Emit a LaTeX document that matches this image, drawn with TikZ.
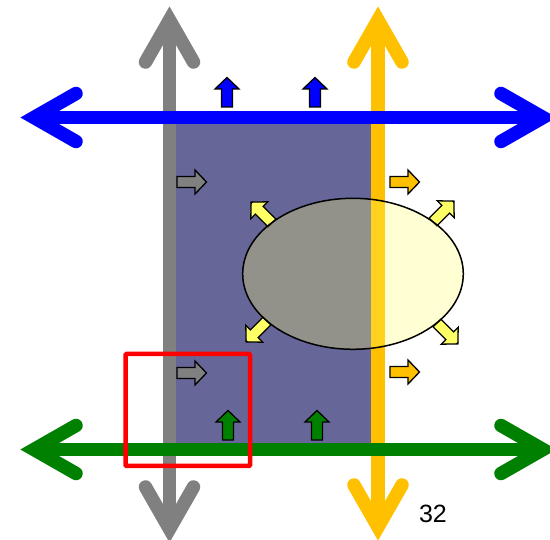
\documentclass[tikz,border=0pt]{standalone}
\usepackage{fontspec}
\setmainfont{Liberation Sans}
\definecolor{purp}{RGB}{102,102,153}
\definecolor{gold}{RGB}{255,192,0}
\definecolor{lyel}{RGB}{255,255,102}
\definecolor{dgreen}{RGB}{0,128,0}
\tikzset{
  bigline/.style={line width=13.5pt},
  pics/chev/.style={code={\draw[line width=13.5pt,line cap=round,line join=miter,#1] (-56,24) -- (-14,0) -- (-56,-24);}},
  pics/barrow/.style={code={\draw[line width=1.3pt,line join=miter,fill=#1] (0,-5.5) -- (18,-5.5) -- (18,-12) -- (29.5,0) -- (18,12) -- (18,5.5) -- (0,5.5) -- cycle;}}
}
\begin{document}
\begin{tikzpicture}[x=1pt,y=-1pt]
\useasboundingbox (0,0) rectangle (550,540);
\clip (0,0) rectangle (550,540);
% band
\fill[purp] (169.5,117.5) rectangle (378,449.5);
% vertical gray
\coordinate (gT) at (169.5,20);
\coordinate (gB) at (169.5,529);
\draw[bigline,gray] (gT) -- (gB);
\pic[rotate=90] at (169.5,6) {chev=gray};
\pic[rotate=-90] at (169.5,543) {chev=gray};
% vertical gold
\coordinate (yT) at (378,20);
\coordinate (yB) at (378,527);
\draw[bigline,gold] (yT) -- (yB);
\pic[rotate=90] at (378,6) {chev=gold};
\pic[rotate=-90] at (378,541) {chev=gold};
% horizontal blue
\coordinate (bL) at (34,117.5);
\coordinate (bR) at (543,117.5);
\draw[bigline,blue] (bL) -- (bR);
\pic[rotate=180] at (20,117.5) {chev=blue};
\pic at (557,117.5) {chev=blue};
% horizontal green
\coordinate (grL) at (34,449.5);
\coordinate (grR) at (543,449.5);
\draw[bigline,dgreen] (grL) -- (grR);
\pic[rotate=180] at (20,449.5) {chev=dgreen};
\pic at (557,449.5) {chev=dgreen};
% small arrows
\pic[rotate=90] at (227,107) {barrow=blue};
\pic[rotate=90] at (315,107) {barrow=blue};
\pic[rotate=90] at (228,440) {barrow=dgreen};
\pic[rotate=90] at (317,440) {barrow=dgreen};
\pic at (177,182) {barrow=gray};
\pic at (177,373) {barrow=gray};
\pic at (390,182) {barrow=gold};
\pic at (390,372) {barrow=gold};
% diagonal arrows
\pic[rotate=135] at (272,223) {barrow=lyel};
\pic[rotate=45] at (433,222) {barrow=lyel};
\pic[rotate=-135] at (267,321) {barrow=lyel};
\pic[rotate=-45] at (437,323) {barrow=lyel};
% ellipse
\path[draw=black,line width=1.5pt,fill=lyel,fill opacity=0.29] (353,273.8) ellipse [x radius=110.3pt, y radius=75.5pt];
% red frame
\draw[red,line width=4.5pt,rounded corners=1pt] (125.5,354) rectangle (250,466);
% page number
\node[anchor=center,inner sep=0pt,font=\fontsize{25}{30}\selectfont] (num) at (433,514) {32};
\end{tikzpicture}
\end{document}
